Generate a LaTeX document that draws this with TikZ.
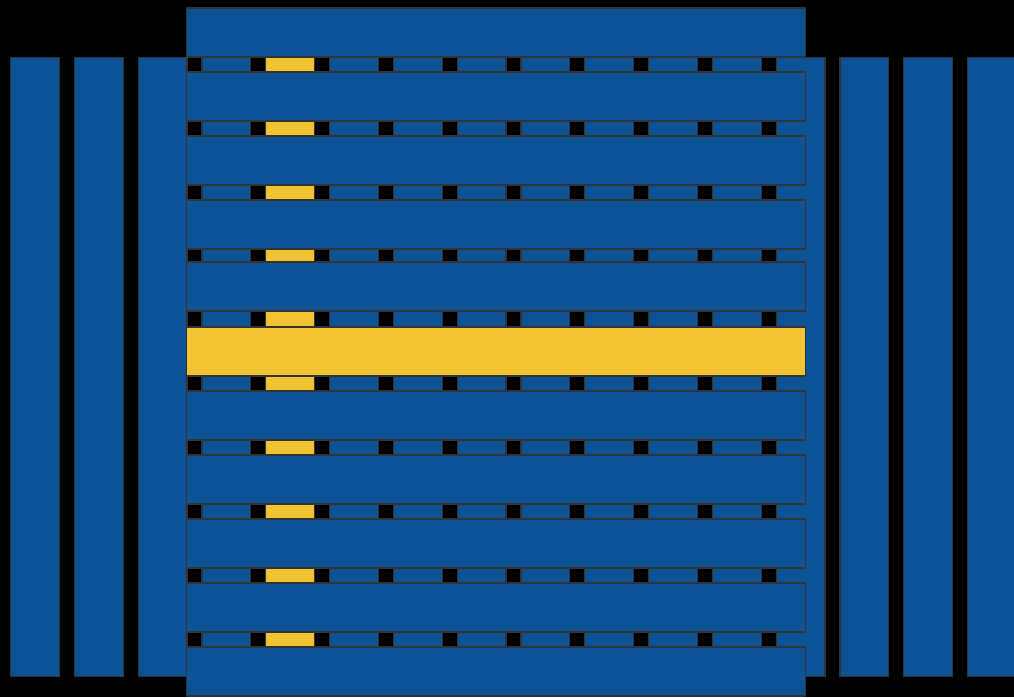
\documentclass[tikz,border=0pt]{standalone}
\definecolor{wblue}{HTML}{0B5394}
\definecolor{wyellow}{HTML}{F1C232}
\definecolor{wline}{HTML}{333333}
\tikzset{
  strip/.style={draw=wline, line width=0.9pt, fill=wblue},
  hot/.style={fill=wyellow}
}
\begin{document}
\begin{tikzpicture}[x=0.75pt,y=-0.75pt]
  \fill[black] (0,0) rectangle (1014,697);
  \useasboundingbox (0,0) rectangle (1014,697);
  % vertical strips
  \foreach \i in {0,...,15}{
    \pgfmathsetmacro{\xl}{10.6+63.8*\i}
    \ifnum\i=4
      \draw[strip,hot] (\xl,57.5) rectangle ++(48.8,619);
    \else
      \draw[strip] (\xl,57.5) rectangle ++(48.8,619);
    \fi
  }
  % horizontal strips
  \foreach \yt [count=\j from 0] in {8,72,136,200,262,327,391,455,519,583,647}{
    \ifnum\j=5
      \draw[strip,hot] (186.5,\yt) rectangle (805.5,\yt+49);
    \else
      \draw[strip] (186.5,\yt) rectangle (805.5,\yt+49);
    \fi
  }
\end{tikzpicture}
\end{document}
